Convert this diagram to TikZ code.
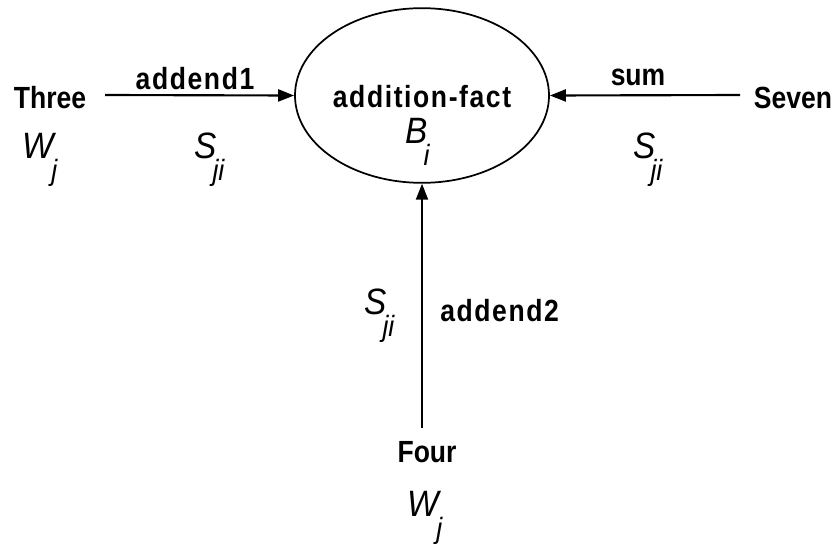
\documentclass[tikz,border=0pt]{standalone}
\usepackage{fontspec}
\usepackage{graphicx}
\setmainfont{Liberation Sans}
\usetikzlibrary{arrows.meta,shapes.geometric}
\newcommand\tall[1]{\scalebox{0.97}[1.12]{#1}}
\newcommand\symsub[2]{\scalebox{1}[1.1]{\textit{#1}\kern-0.14em\raisebox{-0.6em}{\fontsize{20}{20}\selectfont\textit{#2}}}}
\tikzset{
  lbl/.style={font=\fontsize{20.5}{24}\selectfont\bfseries, inner sep=0pt},
  sym/.style={font=\fontsize{25}{26}\selectfont, inner sep=0pt},
  conn/.style={line width=1.6pt, -{Triangle[length=12pt,width=9pt]}},
}
\begin{document}
\begin{tikzpicture}[x=0.75pt,y=-0.75pt]
\useasboundingbox (0,0) rectangle (834,553);
\node[draw, ellipse, line width=1.3pt, minimum width=190.5pt, minimum height=131pt, inner sep=0pt] (fact) at (422,95.5) {};
\node[lbl] (factlbl) at (422,97) {\tall{\addfontfeature{LetterSpace=6}addition-fact}};
\node[sym] (bi) at (418,142) {\symsub{B}{i}};
\node[lbl, anchor=center] (three) at (50,98) {\tall{Three}};
\node[lbl] (seven) at (793,98) {\tall{Seven}};
\node[lbl] (four) at (427,452) {\tall{Four}};
\coordinate (threeend) at (105,95);
\coordinate (sevenend) at (740,95);
\coordinate (fourend) at (422,428);
\draw[conn] (threeend) -- (fact.west);
\draw[conn] (sevenend) -- (fact.east);
\draw[conn] (fourend) -- (fact.south);
\node[lbl] (add1) at (195,79) {\tall{\addfontfeature{LetterSpace=6}addend1}};
\node[lbl] (sum) at (638,77) {\tall{sum}};
\node[lbl, anchor=west] (add2) at (440,311) {\tall{\addfontfeature{LetterSpace=6}addend2}};
\node[sym] (wleft) at (40,160) {\symsub{W}{j}};
\node[sym] (sleft) at (210,160) {\symsub{S}{ji}};
\node[sym] (sright) at (648,160) {\symsub{S}{ji}};
\node[sym] (smid) at (380,316) {\symsub{S}{ji}};
\node[sym] (wbot) at (425,518) {\symsub{W}{j}};
\end{tikzpicture}
\end{document}
